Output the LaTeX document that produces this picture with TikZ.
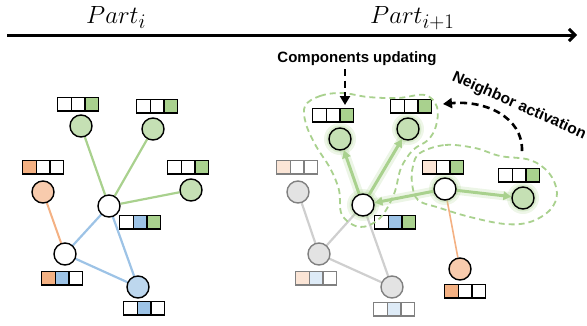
\documentclass[tikz,border=0pt]{standalone}
\usepackage{fontspec}
\newfontfamily\labfont{Liberation Sans}
\usetikzlibrary{arrows.meta,backgrounds}
\definecolor{gfill}{HTML}{C5E0B4}
\definecolor{gcell}{HTML}{A9D18E}
\definecolor{ofill}{HTML}{F8CBAD}
\definecolor{ocell}{HTML}{F4B183}
\definecolor{bfill}{HTML}{BDD7EE}
\definecolor{bcell}{HTML}{9DC3E6}
\definecolor{grayfill}{HTML}{E3E3E3}
\definecolor{grayline}{HTML}{808080}
\definecolor{grayedge}{HTML}{CFCFCF}
\definecolor{lofill}{HTML}{FBE5D6}
\definecolor{lbfill}{HTML}{DEEBF7}
\definecolor{glowc}{HTML}{A9D18E}
\tikzset{
  vert/.style={circle, draw=black, line width=1.4pt, minimum size=22pt, inner sep=0pt},
  gvert/.style={circle, draw=grayline, line width=1.4pt, minimum size=22pt, inner sep=0pt, fill=grayfill},
  cellbox/.style={rectangle, draw=#1, line width=1.4pt, minimum width=13.6pt, minimum height=13.6pt, inner sep=0pt},
  gedge/.style={draw=gcell, line width=2.2pt},
  bedge/.style={draw=bcell, line width=2.2pt},
  oedge/.style={draw=ocell, line width=2pt},
  greyedge/.style={draw=grayedge, line width=2.2pt},
  garrow/.style={draw=gcell, line width=3pt, -{Triangle[length=8pt,width=8.5pt]}},
  glowline/.style={draw=glowc, line width=9pt, opacity=0.22, line cap=round},
  blob/.style={draw=gcell, line width=1.8pt, dash pattern=on 6pt off 4pt},
  dasharrow/.style={draw=black, line width=2.6pt, dash pattern=on 7pt off 4.5pt, -{Stealth[length=9pt,width=10pt,inset=0pt]}},
  lab/.style={font=\labfont\bfseries\fontsize{15}{18}\selectfont, inner sep=0pt}
}
\newcommand\cellrow[7]{%
  \node[cellbox=#7, fill=#4] (#1a) at (#2,#3) [xshift=-13.6pt] {};
  \node[cellbox=#7, fill=#5] (#1b) at (#2,#3) {};
  \node[cellbox=#7, fill=#6] (#1c) at (#2,#3) [xshift=13.6pt] {};
}
\newcommand\glowat[1]{%
  \fill[glowc,opacity=0.2] (#1) circle (16);
  \fill[glowc,opacity=0.3] (#1) circle (13.5);
}
\begin{document}
\begin{tikzpicture}[x=1pt,y=-1pt]
\useasboundingbox (0,0) rectangle (587,325);

% axis
\coordinate (ax0) at (7,35);
\coordinate (ax1) at (577,35);
\draw[line width=3pt, -{Straight Barb[length=6pt,width=12pt]}] (ax0) -- (ax1);
\node[font=\Huge, anchor=base west, inner sep=0pt] (pti) at (86,23) {$Part_i$};
\node[font=\Huge, anchor=base west, inner sep=0pt] (ptii) at (370,23) {$Part_{i+1}$};

% ---------- left graph ----------
\node[vert, fill=gfill] (A1) at (81,126) {};
\node[vert, fill=gfill] (A2) at (153,129) {};
\node[vert, fill=gfill] (A3) at (191,190) {};
\node[vert, fill=ofill] (O) at (43,192) {};
\node[vert, fill=white] (H1) at (109,206) {};
\node[vert, fill=white] (H2) at (65,254) {};
\node[vert, fill=bfill] (B) at (138,287) {};

\cellrow{ra1}{78}{104}{white}{white}{gcell}{black}
\cellrow{ra2}{157}{106}{white}{white}{gcell}{black}
\cellrow{ra3}{188}{167}{white}{white}{gcell}{black}
\cellrow{ro}{43}{167}{ocell}{white}{white}{black}
\cellrow{rh1}{140}{222}{white}{bcell}{gcell}{black}
\cellrow{rh2}{62}{278}{ocell}{bcell}{white}{black}
\cellrow{rb}{144}{308}{white}{bcell}{white}{black}

% ---------- right graph ----------
\node[gvert] (G1) at (298,192) {};
\node[gvert] (G2) at (319,254) {};
\node[gvert] (G3) at (392,287) {};
\node[vert, fill=gfill] (C1) at (340,139) {};
\node[vert, fill=gfill] (C2) at (408,129) {};
\node[vert, fill=white] (R1) at (363,205) {};
\node[vert, fill=white] (R2) at (445,189) {};
\node[vert, fill=gfill] (C3) at (523,198) {};
\node[vert, fill=ofill] (O2) at (460,269) {};

\cellrow{rg1}{297}{167}{lofill}{white}{white}{grayline}
\cellrow{rg2}{316}{278}{lofill}{lbfill}{white}{grayline}
\cellrow{rg3}{394}{309}{white}{lbfill}{white}{grayline}
\cellrow{rc1}{333}{115}{white}{white}{gcell}{black}
\cellrow{rc2}{411}{106}{white}{white}{gcell}{black}
\cellrow{rr1}{395}{222}{white}{bcell}{gcell}{black}
\cellrow{rr2}{443}{167}{lofill}{white}{gcell}{black}
\cellrow{rc3}{519}{175}{white}{white}{gcell}{black}
\cellrow{ro2}{465}{291}{ocell}{white}{white}{black}

\begin{scope}[on background layer]
  % left edges
  \draw[gedge] (H1) -- (A1);
  \draw[gedge] (H1) -- (A2);
  \draw[gedge] (H1) -- (A3);
  \draw[oedge] (O) -- (H2);
  \draw[bedge] (H1) -- (H2);
  \draw[bedge] (H1) -- (B);
  \draw[bedge] (H2) -- (B);
  % right gray edges
  \draw[greyedge] (G1) -- (G2);
  \draw[greyedge] (R1) -- (G2);
  \draw[greyedge] (R1) -- (G3);
  \draw[greyedge] (G2) -- (G3);
  \draw[oedge, line width=1.6pt] (R2) -- (O2);
  % glows
  \draw[glowline] (R1.center) -- (C1.center);
  \draw[glowline] (R1.center) -- (C2.center);
  \draw[glowline] (R2.center) -- (R1.center);
  \draw[glowline] (R2.center) -- (C3.center);
  \glowat{C1}
  \glowat{C2}
  \glowat{C3}
  \glowat{R1}
  \glowat{R2}
  % green arrows
  \draw[garrow] (R1) -- (C1);
  \draw[garrow] (R1) -- (C2);
  \draw[garrow] (R2) -- (R1);
  \draw[garrow] (R2) -- (C3);
\end{scope}

% blobs
\draw[blob] plot[smooth cycle, tension=0.6] coordinates {
  (305,106) (320,96) (342,93) (368,97) (398,98) (425,95) (437,107)
  (436,126) (428,140) (413,150) (401,168) (394,194) (380,218) (360,227)
  (342,215) (339,190) (330,168) (316,146) (306,124)};
\draw[blob] plot[smooth cycle, tension=0.6] coordinates {
  (420,153) (445,145) (475,148) (500,156) (530,160) (549,173) (557,193)
  (550,210) (530,222) (505,224) (470,217) (440,208) (418,200) (412,183) (413,166)};

% labels and dashed arrows
\node[lab] (cu) at (357,59) {Components updating};
\coordinate (cutop) at (345,69);
\coordinate (cubot) at (345,105);
\draw[dasharrow] (cutop) -- (cubot);

\node[lab, rotate=-24, font=\labfont\bfseries\fontsize{15.5}{18}\selectfont] (na) at (519,106) {Neighbor activation};
\coordinate (nastart) at (522,151);
\coordinate (naend) at (443,104);
\draw[dasharrow] (nastart) .. controls (523,117) and (485,100) .. (naend);
\end{tikzpicture}
\end{document}
